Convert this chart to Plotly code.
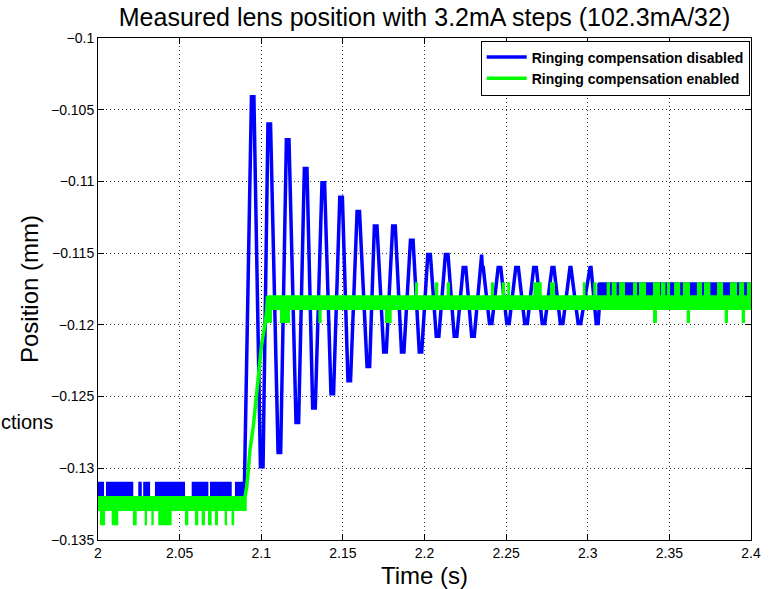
import plotly.graph_objects as go

# ---------------- axis ticks ----------------
x_tickvals = [2.0, 2.05, 2.1, 2.15, 2.2, 2.25, 2.3, 2.35, 2.4]
x_ticktext = ["2", "2.05", "2.1", "2.15", "2.2", "2.25", "2.3", "2.35", "2.4"]
y_tickvals = [-0.1, -0.105, -0.11, -0.115, -0.12, -0.125, -0.13, -0.135]
y_ticktext = ["\u22120.1", "\u22120.105", "\u22120.11", "\u22120.115", "\u22120.12",
              "\u22120.125", "\u22120.13", "\u22120.135"]

# ---------------- Ringing compensation disabled (blue) ----------------
# noise band before the step: [start, end] time, [top, bottom] level
blue_base_span = [1.998, 2.0897]
blue_base_levels = [-0.1310, -0.1329]
# short intervals where the noise does not reach the top level
blue_base_notch_t0 = [2.0031, 2.0210, 2.0262, 2.0313, 2.0527, 2.0670, 2.0813]
blue_base_notch_t1 = [2.0055, 2.0253, 2.0283, 2.0355, 2.0580, 2.0692, 2.0845]
blue_base_notch_level = -0.1320

# ringing: turning points (time, position)
blue_ring_t = [2.0897,
               2.0940, 2.0955, 2.0995, 2.1011, 2.1041, 2.1057, 2.1103, 2.1119,
               2.1154, 2.1170, 2.1213, 2.1229, 2.1264, 2.1280, 2.1315, 2.1331,
               2.1372, 2.1388, 2.1427, 2.1443, 2.1481, 2.1497, 2.1531, 2.1547,
               2.1587, 2.1602, 2.1648, 2.1664, 2.1693, 2.1709, 2.1750, 2.1766,
               2.1805, 2.1821, 2.1859, 2.1874, 2.1914, 2.1930, 2.1968, 2.1983,
               2.2020, 2.2036, 2.2072, 2.2088, 2.2128, 2.2144, 2.2182, 2.2198,
               2.2237, 2.2253, 2.2289, 2.2305, 2.2344, 2.2350, 2.2354, 2.2360,
               2.2398, 2.2413, 2.2451, 2.2467, 2.2504, 2.2519, 2.2559, 2.2575,
               2.2614, 2.2630, 2.2669, 2.2685, 2.2721, 2.2737, 2.2781, 2.2793,
               2.2832, 2.2848, 2.2891, 2.2897, 2.2941, 2.2957, 2.3014, 2.3020,
               2.3052, 2.3064, 2.3075]
blue_ring_v = [-0.1311,
               -0.1041, -0.1041, -0.1299, -0.1299, -0.1060, -0.1060, -0.1289, -0.1289,
               -0.1071, -0.1071, -0.1268, -0.1268, -0.1091, -0.1091, -0.1258, -0.1258,
               -0.1101, -0.1101, -0.1248, -0.1248, -0.1111, -0.1111, -0.1239, -0.1239,
               -0.1121, -0.1121, -0.1229, -0.1229, -0.1131, -0.1131, -0.1219, -0.1219,
               -0.1131, -0.1131, -0.1219, -0.1219, -0.1141, -0.1141, -0.1219, -0.1219,
               -0.1151, -0.1151, -0.1208, -0.1208, -0.1151, -0.1151, -0.1208, -0.1208,
               -0.1160, -0.1160, -0.1208, -0.1208, -0.1160, -0.1151, -0.1160, -0.1160,
               -0.1199, -0.1199, -0.1160, -0.1160, -0.1199, -0.1199, -0.1160, -0.1160,
               -0.1199, -0.1199, -0.1160, -0.1160, -0.1199, -0.1199, -0.1160, -0.1160,
               -0.1199, -0.1199, -0.1160, -0.1160, -0.1199, -0.1199, -0.1160, -0.1160,
               -0.1199, -0.1199, -0.1180]

# settled noise band
blue_tail_span = [2.3064, 2.402]
blue_tail_levels = [-0.1171, -0.1189]

# ---------------- Ringing compensation enabled (green) ----------------
green_base_span = [1.998, 2.0905]
green_base_levels = [-0.1320, -0.1329]
green_base_dip_t0 = [2.0018, 2.0090, 2.0220, 2.0292, 2.0333, 2.0375, 2.0539,
                     2.0600, 2.0641, 2.0680, 2.0723, 2.0782, 2.0824]
green_base_dip_t1 = [2.0037, 2.0118, 2.0231, 2.0294, 2.0335, 2.0445, 2.0547,
                     2.0608, 2.0649, 2.0690, 2.0729, 2.0784, 2.0828]
green_base_dip_level = -0.1339

green_ramp_t = [2.0900, 2.0911, 2.0921, 2.0931, 2.0951, 2.0962, 2.0972,
                2.0982, 2.0992, 2.1002, 2.1013, 2.1023, 2.1033, 2.1041]
green_ramp_v = [-0.1320, -0.1313, -0.1301, -0.1287, -0.1271, -0.1259, -0.1248,
                -0.1234, -0.1222, -0.1214, -0.1206, -0.1200, -0.1190, -0.1180]

green_tail_span = [2.1033, 2.402]
green_tail_levels = [-0.1180, -0.1189]
green_tail_up_t0 = [2.1948, 2.2070, 2.2142, 2.2413, 2.2479, 2.2513, 2.2673, 2.2775,
                    2.2976, 2.3040, 2.3122, 2.3153, 2.3198, 2.3283, 2.3320, 2.3406,
                    2.3455, 2.3491, 2.3535, 2.3589, 2.3675, 2.3718, 2.3798, 2.3877,
                    2.3933, 2.3981]
green_tail_up_t1 = [2.1954, 2.2078, 2.2150, 2.2420, 2.2487, 2.2518, 2.2712, 2.2793,
                    2.2980, 2.3048, 2.3130, 2.3171, 2.3222, 2.3296, 2.3351, 2.3437,
                    2.3470, 2.3498, 2.3560, 2.3620, 2.3694, 2.3745, 2.3823, 2.3908,
                    2.3952, 2.4020]
green_tail_up_level = -0.1171
green_tail_dip_t0 = [2.1033, 2.1121, 2.1356, 2.1764, 2.3406, 2.3612, 2.3845, 2.3949]
green_tail_dip_t1 = [2.1060, 2.1170, 2.1364, 2.1793, 2.3418, 2.3620, 2.3853, 2.3957]
green_tail_dip_level = -0.1198

BLUE = "#0000FF"
GREEN = "#00FF00"


def band(span, levels, up_t0=(), up_t1=(), up_lvl=None, dn_t0=(), dn_t1=(), dn_lvl=None):
    top, bot = levels
    xs, ys = [span[0]], [top]
    for a, b in zip(up_t0, up_t1):
        xs += [a, a, b, b]
        ys += [top, up_lvl, up_lvl, top]
    xs.append(span[1]); ys.append(top)
    xs.append(span[1]); ys.append(bot)
    for a, b in reversed(list(zip(dn_t0, dn_t1))):
        xs += [b, b, a, a]
        ys += [bot, dn_lvl, dn_lvl, bot]
    xs.append(span[0]); ys.append(bot)
    xs.append(span[0]); ys.append(top)
    return xs, ys


fig = go.Figure()

def add_band(xy, color, group):
    fig.add_trace(go.Scatter(x=xy[0], y=xy[1], mode="lines", fill="toself",
                             fillcolor=color, line=dict(color=color, width=2),
                             legendgroup=group, showlegend=False, hoverinfo="skip"))

# blue
add_band(band(blue_base_span, blue_base_levels, blue_base_notch_t0, blue_base_notch_t1,
              blue_base_notch_level), BLUE, "b")
fig.add_trace(go.Scatter(x=blue_ring_t, y=blue_ring_v, mode="lines",
                         line=dict(color=BLUE, width=3.5), legendgroup="b",
                         name="Ringing compensation disabled"))
add_band(band(blue_tail_span, blue_tail_levels), BLUE, "b")

# green
add_band(band(green_base_span, green_base_levels, dn_t0=green_base_dip_t0,
              dn_t1=green_base_dip_t1, dn_lvl=green_base_dip_level), GREEN, "g")
fig.add_trace(go.Scatter(x=green_ramp_t, y=green_ramp_v, mode="lines",
                         line=dict(color=GREEN, width=3.5), legendgroup="g",
                         name="Ringing compensation enabled"))
add_band(band(green_tail_span, green_tail_levels, green_tail_up_t0, green_tail_up_t1,
              green_tail_up_level, green_tail_dip_t0, green_tail_dip_t1,
              green_tail_dip_level), GREEN, "g")

FONT = "Liberation Sans, Arial, Helvetica, sans-serif"
axis_common = dict(showline=True, linecolor="black", linewidth=1, mirror="ticks",
                   ticks="inside", ticklen=6, tickcolor="black", tickwidth=1,
                   showgrid=True, gridcolor="#333333", gridwidth=1, griddash="1px,3px",
                   zeroline=False,
                   tickfont=dict(family=FONT, size=14, color="black"))

fig.update_layout(
    width=771, height=589,
    margin=dict(l=98, r=20, t=38, b=49, autoexpand=False),
    paper_bgcolor="white", plot_bgcolor="white",
    title=dict(text="Measured lens position with 3.2mA steps (102.3mA/32)",
               font=dict(family=FONT, size=25, color="black"),
               x=0.5, xref="paper", xanchor="center",
               y=0.971, yref="container", yanchor="middle"),
    xaxis=dict(range=[2.0, 2.4], tickvals=x_tickvals, ticktext=x_ticktext,
               automargin=False,
               title=dict(text="Time (s)", font=dict(family=FONT, size=24, color="black")),
               **axis_common),
    yaxis=dict(range=[-0.135, -0.1], tickvals=y_tickvals, ticktext=y_ticktext,
               automargin=True,
               title=dict(text="Position (mm)", standoff=5,
                          font=dict(family=FONT, size=24, color="black")),
               **axis_common),
    legend=dict(x=0.998, xanchor="right", y=0.995, yanchor="top",
                bgcolor="white", bordercolor="black", borderwidth=1,
                font=dict(family=FONT, size=14, color="black", weight="bold"),
                tracegroupgap=0, itemwidth=40),
    showlegend=True,
    annotations=[dict(text="ctions", xref="paper", yref="paper", x=-0.152, y=0.235,
                      xanchor="left", yanchor="middle", showarrow=False,
                      font=dict(family=FONT, size=20, color="black"))],
)

fig.write_html("out.html", config={"displayModeBar": False},
               post_script="document.body.style.margin='0';document.body.style.padding='0';")
